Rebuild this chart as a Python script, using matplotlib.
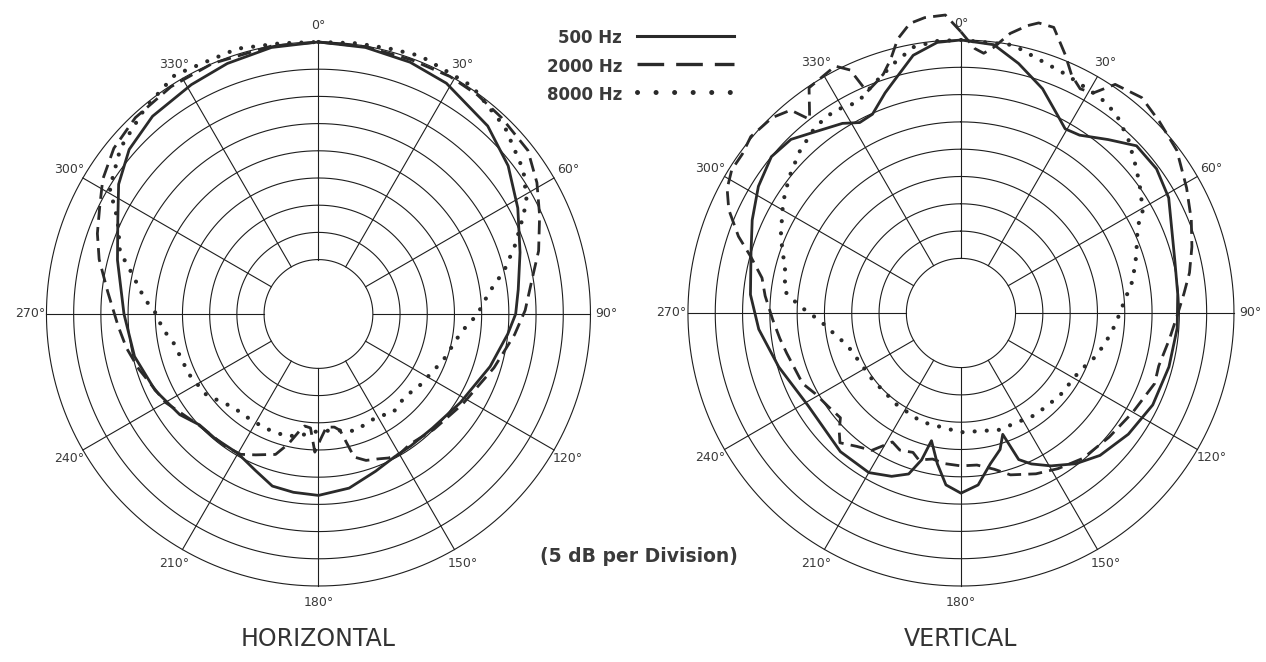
import numpy as np
import matplotlib
matplotlib.use('Agg')
import matplotlib.pyplot as plt
from matplotlib.lines import Line2D

plt.rcParams['font.family'] = ['DejaVu Sans']

# ---------------- data (angle in degrees, level in 5 dB divisions, 10 = outer ring)
# HORIZONTAL, 500 Hz
h500_deg = [0, 10, 20, 29, 42, 52, 62, 73, 83, 90, 96, 107, 122, 135, 145, 152, 160, 170,
            180, 188, 195, 202, 210, 220, 227, 234, 245, 257, 270, 285, 295, 303, 311, 320,
            331, 340, 350, 360]
h500_r = [10.0, 9.95, 9.85, 9.7, 9.3, 8.85, 8.3, 7.75, 7.4, 7.25, 7.0, 6.6, 6.15, 5.93, 5.92,
          5.95, 6.15, 6.5, 6.67, 6.62, 6.55, 6.2, 5.92, 5.95, 5.98, 6.3, 6.63, 6.94, 7.15, 7.65,
          8.14, 8.76, 9.22, 9.49, 9.64, 9.8, 9.95, 10.0]

# HORIZONTAL, 2000 Hz
h2000_deg = [0, 10, 20, 29, 36, 43, 52, 59, 66, 74, 80, 89, 96, 107, 122, 135, 145, 150, 154,
             158, 162, 166, 169.5, 172, 176, 179, 181.5, 184, 187, 189, 193, 197, 200, 204, 209,
             215, 227, 240, 253, 260, 266.6, 276, 284, 290, 296, 302, 309, 317, 327, 337, 350, 360]
h2000_r = [10.0, 9.98, 9.95, 9.98, 9.95, 9.87, 9.77, 9.37, 8.9, 8.42, 8.0, 7.6, 7.25, 6.75, 6.25,
           6.0, 5.85, 5.95, 5.89, 5.75, 5.66, 5.42, 4.35, 4.2, 4.17, 4.6, 5.08, 4.2, 4.15, 4.33,
           4.9, 5.4, 5.5, 5.67, 5.9, 5.95, 6.0, 6.5, 6.91, 7.17, 7.38, 7.79, 8.31, 8.65, 8.95,
           9.35, 9.68, 9.87, 9.96, 10.0, 10.0, 10.0]

# HORIZONTAL, 8000 Hz
h8000_deg = [0, 8, 15, 21.5, 27, 34, 45, 55, 61, 64, 70.6, 77, 81, 85, 90, 93, 97, 110, 125, 134,
             143, 150, 162.7, 170, 180, 186, 194.5, 204, 212, 222.6, 234, 245, 259, 264.6, 270,
             275, 279, 283.4, 287.4, 295, 301, 310, 320, 329, 337, 343, 352, 360]
h8000_r = [10.0, 10.05, 10.1, 10.2, 10.1, 10.1, 9.7, 9.2, 8.74, 8.4, 7.67, 7.0, 6.5, 6.16, 5.85,
           5.6, 5.3, 4.9, 4.56, 4.4, 4.55, 4.35, 4.5, 4.35, 4.3, 4.45, 4.65, 4.63, 4.62, 4.65,
           5.08, 5.25, 5.44, 5.76, 5.96, 6.42, 6.72, 7.14, 7.65, 8.14, 8.95, 9.5, 9.9, 10.25,
           10.15, 10.2, 10.05, 10.0]

# VERTICAL, 500 Hz
v500_deg = [0, 7, 13, 20, 26.8, 29.5, 33.7, 40.3, 46.4, 53.6, 61, 76.5, 85, 94, 104.5, 115.6,
            125.9, 135.7, 142.7, 149.5, 155, 158.5, 161, 164, 169, 174.3, 180, 185, 188.9, 193,
            195, 198, 203, 210, 221, 239, 253.5, 265.4, 275, 286, 294, 302, 309.5, 315.6, 321,
            328, 332, 336, 341, 345, 349.5, 355, 360]
v500_r = [10.0, 9.9, 9.38, 8.74, 7.99, 7.75, 7.83, 8.33, 8.88, 8.9, 8.7, 8.06, 7.97, 7.94, 7.87,
          7.79, 7.57, 7.29, 6.94, 6.5, 6.1, 5.77, 4.7, 5.2, 5.63, 6.33, 6.6, 6.32, 5.59, 4.8,
          5.57, 6.2, 6.5, 6.75, 6.73, 6.55, 6.96, 7.43, 7.74, 8.0, 8.37, 8.75, 9.0, 8.9, 8.53,
          8.19, 7.9, 7.97, 8.53, 8.98, 9.6, 9.95, 10.0]

# VERTICAL, 2000 Hz
v2000_deg = [0, 3, 5, 7, 10, 13, 15, 18, 22, 25, 28, 31, 34, 40, 46, 53, 61, 68, 74, 80, 85, 90,
             97, 105, 110, 120, 130, 140, 148, 155, 163, 168, 174, 180, 186, 191, 196, 199, 204,
             208, 213, 218, 223, 226, 229, 235, 241, 246, 257, 262, 268, 275, 280, 285, 289,
             294, 298, 302, 306, 310, 316, 320, 322, 326, 333, 335.5, 337, 339.8, 342, 344.5,
             347, 350, 353, 357, 360]
v2000_r = [10.3, 9.7, 9.55, 9.8, 10.4, 10.8, 11.0, 11.0, 10.2, 9.6, 9.3, 9.4, 10.1, 10.3, 10.1,
           9.9, 9.45, 9.1, 8.8, 8.5, 8.2, 7.95, 7.7, 7.5, 7.55, 7.27, 7.08, 6.95, 6.72, 6.5, 6.2,
           5.85, 5.6, 5.6, 5.55, 5.45, 5.6, 5.4, 5.5, 5.35, 6.0, 6.2, 6.5, 6.2, 5.85, 5.95, 6.1,
           6.35, 6.55, 6.7, 6.9, 7.2, 7.4, 7.97, 8.62, 9.31, 9.7, 9.9, 9.9, 10.05, 9.95, 9.7,
           9.0, 9.95, 10.15, 9.78, 8.8, 9.0, 9.2, 9.64, 10.3, 10.77, 10.9, 10.93, 10.3]

# VERTICAL, 8000 Hz
v8000_deg = [0, 11, 17, 23.6, 32.8, 38, 44, 50.6, 55.6, 60.7, 64, 72, 79.3, 84, 90.5, 94.5,
             100.8, 107.6, 116, 130, 144, 162, 180, 200, 215, 233, 252, 258, 262.6, 266.9,
             270.5, 274, 277, 283.7, 293, 301.8, 308.3, 315, 322, 328, 334, 339, 345, 350, 355,
             360]
v8000_r = [10.0, 10.0, 9.72, 9.55, 9.4, 9.24, 8.83, 8.32, 7.97, 7.63, 7.2, 6.75, 6.4, 6.1, 5.8,
           5.66, 5.43, 5.2, 4.84, 4.72, 4.62, 4.5, 4.37, 4.24, 4.1, 4.06, 4.27, 4.53, 4.84, 5.17,
           5.64, 6.1, 6.5, 6.63, 7.17, 7.67, 8.02, 8.36, 8.66, 8.74, 8.6, 8.97, 9.47, 9.9, 10.0,
           10.0]

ring_levels = [2, 3, 4, 5, 6, 7, 8, 9, 10]
spoke_deg = [0, 30, 60, 90, 120, 150, 180, 210, 240, 270, 300, 330]
legend_labels = ['500 Hz', '2000 Hz', '8000 Hz']

ink = '#2a2a2a'
grid_c = '#1e1e1e'
solid = dict(color=ink, lw=2.0, ls='-', solid_joinstyle='round', solid_capstyle='round')
dashed = dict(color=ink, lw=2.0, ls=(0, (5, 2.6)), dash_capstyle='butt')
dotted = dict(color=ink, lw=3.0, ls=(0, (0.01, 2.9)), dash_capstyle='round')


def draw_chart(ax, curves, title):
    ax.set_theta_zero_location('N')
    ax.set_theta_direction(-1)
    ax.set_ylim(0, 10)
    ax.set_axis_off()
    t = np.linspace(0, 2 * np.pi, 721)
    for r in ring_levels:
        ax.plot(t, np.full_like(t, r), color=grid_c, lw=0.8, zorder=1, clip_on=False)
    for a in spoke_deg:
        th = np.radians(a)
        ax.plot([th, th], [2, 10], color=grid_c, lw=0.8, zorder=1, clip_on=False)
        ax.text(th, 10.6, f'{a}°', ha='center', va='center', fontsize=9, color='#3a3a3a')
    for deg, r, style in curves:
        ax.plot(np.radians(deg), r, clip_on=False, zorder=3, **style)
    ax.text(np.pi, 11.95, title, ha='center', va='center', fontsize=17, color='#333333')


fig = plt.figure(figsize=(12.66, 6.62), dpi=100)
axL = fig.add_axes([0.0367, 0.1148, 0.4297, 0.8218], projection='polar')
axR = fig.add_axes([0.5434, 0.1148, 0.4313, 0.8248], projection='polar')

draw_chart(axL, [(h500_deg, h500_r, solid), (h2000_deg, h2000_r, dashed),
                 (h8000_deg, h8000_r, dotted)], 'HORIZONTAL')
draw_chart(axR, [(v500_deg, v500_r, solid), (v2000_deg, v2000_r, dashed),
                 (v8000_deg, v8000_r, dotted)], 'VERTICAL')

# legend, drawn by hand like the printed sheet
leg_styles = [dict(color=ink, lw=2.2, ls='-'),
              dict(color=ink, lw=2.4, ls=(0, (8, 3.6))),
              dict(color=ink, lw=3.6, ls=(0, (0.01, 3.7)), dash_capstyle='round')]
for i, (lab, st) in enumerate(zip(legend_labels, leg_styles)):
    y = 0.946 - i * 0.0425
    fig.text(0.4915, y - 0.004, lab, ha='right', va='center', fontsize=12,
             fontweight='bold', color='#3a3a3a')
    fig.add_artist(Line2D([0.5035, 0.580], [y, y], transform=fig.transFigure, **st))

fig.text(0.5045, 0.160, '(5 dB per Division)', ha='center', va='center', fontsize=13.5,
         fontweight='bold', color='#3a3a3a')

plt.savefig('out.png', dpi=100, facecolor='white')
